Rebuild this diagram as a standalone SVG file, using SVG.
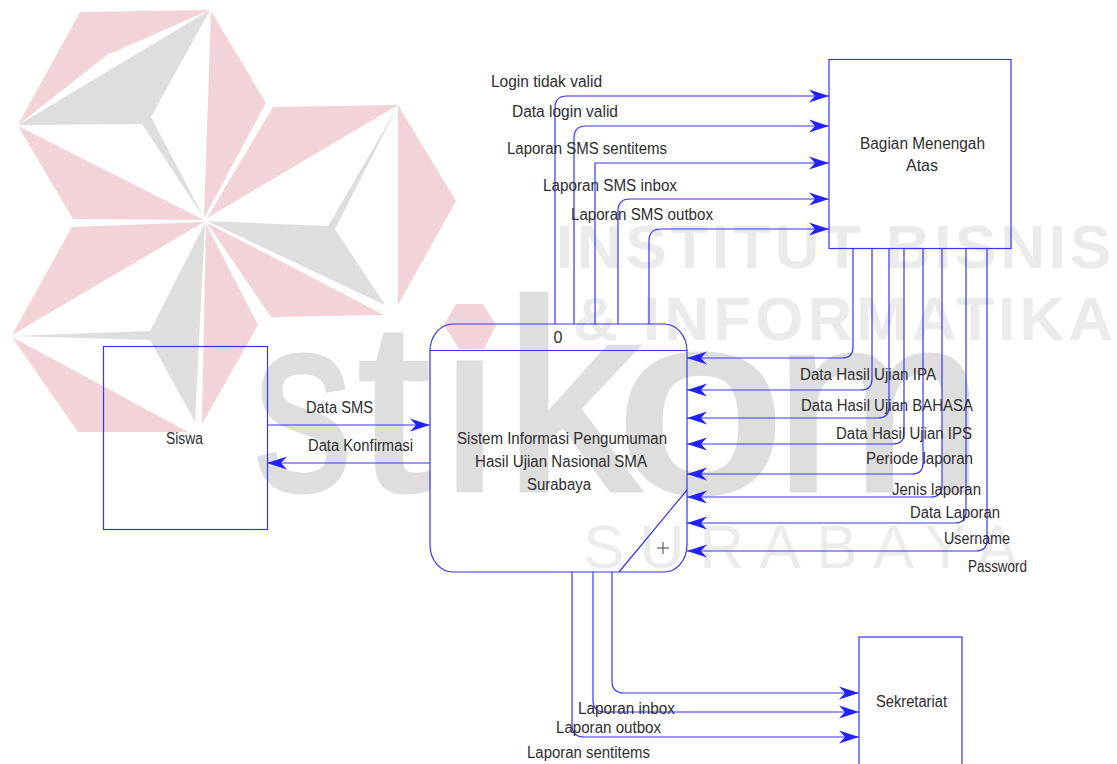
<svg xmlns="http://www.w3.org/2000/svg" width="1117" height="764" viewBox="0 0 1117 764">
<style>
.p{fill:#f2d3d7}.g{fill:#dedede}
.wm{font-family:"Liberation Sans",Arial,sans-serif;fill:#dedede;stroke:#dedede;stroke-width:5}
.wt{font-family:"Liberation Sans",Arial,sans-serif;font-weight:700;font-size:62px;fill:#ebebeb}
.wl{font-family:"Liberation Sans",Arial,sans-serif;font-size:62px;fill:#ececec}
.box{fill:none;stroke:#3535ff;stroke-width:1.2}
.c{fill:none;stroke:#3535ff;stroke-width:1.2;marker-end:url(#a)}
.t{font-family:"Liberation Sans",Arial,sans-serif;font-size:16px;fill:#2e2e2e}
.m{text-anchor:middle}
</style>
<defs>
<marker id="a" markerUnits="userSpaceOnUse" markerWidth="20" markerHeight="14" refX="20" refY="7" orient="auto"><path d="M0 0.500L20 7L0 13.500L6 7Z" fill="#2222ff"/></marker>
</defs>
<rect width="1117" height="764" fill="#fff"/>
<g id="watermark">
<polygon class="p" points="80,12 210,10 107,55 18,125"/>
<polygon class="g" points="18,125 210,10 151,117 204,218 142,124"/>
<polygon class="p" points="211,11 266,103 204,218"/>
<polygon class="p" points="18,126 204,220 73,219"/>
<polygon class="p" points="273,107 398,105 207,218"/>
<polygon class="p" points="398,105 456,201 398,305"/>
<polygon class="g" points="398,106 335,229 385,305 207,221 328,226"/>
<polygon class="p" points="207,223 384,315 271,317"/>
<polygon class="p" points="204,222 72,227 12,335"/>
<polygon class="g" points="205,223 195,422 150,340 12,336 150,331"/>
<polygon class="p" points="206,224 258,325 202,424"/>
<polygon class="p" points="12,337 188,432 78,432"/>
<text class="wm" x="254" y="490" font-size="250" textLength="98" lengthAdjust="spacingAndGlyphs">s</text>
<text class="wm" x="358" y="490" font-size="240" textLength="72" lengthAdjust="spacingAndGlyphs">t</text>
<text class="wm" x="443" y="490" font-size="240">i</text>
<polygon fill="#f2d3d7" points="456,304 483,304 496,325 484,349 459,349 444,325"/>
<text class="wm" x="504" y="490" font-size="270">k</text>
<text class="wm" x="618" y="490" font-size="250" textLength="165" lengthAdjust="spacingAndGlyphs" style="stroke-width:8">o</text>
<text class="wm" x="775" y="490" font-size="250">m</text>
<text class="wt" x="556" y="268" textLength="555">INSTITUT BISNIS</text>
<text class="wt" x="573" y="340" textLength="540">&amp; INFORMATIKA</text>
<text class="wl" x="583" y="568" textLength="435">SURABAYA</text>
</g>
<g id="connectors">
<path class="c" d="M555 324V108Q555 96 567 96H829"/>
<path class="c" d="M574 324V138Q574 126 586 126H829"/>
<path class="c" d="M595 324V163H829"/>
<path class="c" d="M618 324V211Q618 199 630 199H829"/>
<path class="c" d="M649 324V241Q649 229 661 229H829"/>
<path class="c" d="M853 248V347Q853 358 842 358H687"/>
<path class="c" d="M872 248V379Q872 390 861 390H687"/>
<path class="c" d="M889 248V407Q889 418 878 418H687"/>
<path class="c" d="M904 248V433Q904 444 893 444H687"/>
<path class="c" d="M923 248V463Q923 474 912 474H687"/>
<path class="c" d="M942 248V486Q942 497 931 497H687"/>
<path class="c" d="M966 248V512Q966 523 955 523H687"/>
<path class="c" d="M987 248V540Q987 551 976 551H687"/>
<path class="c" d="M267 425H430"/>
<path class="c" d="M430 463H267"/>
<path class="c" d="M612 572V681Q612 693 624 693H859"/>
<path class="c" d="M593 572V700Q593 712 605 712H859"/>
<path class="c" d="M572 572V725Q572 737 584 737H859"/>
<g id="connector-labels">
<text class="t" x="491" y="87" textLength="111" lengthAdjust="spacingAndGlyphs">Login tidak valid</text>
<text class="t" x="512" y="117" textLength="106" lengthAdjust="spacingAndGlyphs">Data login valid</text>
<text class="t" x="507" y="154" textLength="160" lengthAdjust="spacingAndGlyphs">Laporan SMS sentitems</text>
<text class="t" x="543" y="191" textLength="134" lengthAdjust="spacingAndGlyphs">Laporan SMS inbox</text>
<text class="t" x="571" y="220" textLength="142" lengthAdjust="spacingAndGlyphs">Laporan SMS outbox</text>
<text class="t" x="800" y="380" textLength="136" lengthAdjust="spacingAndGlyphs">Data Hasil Ujian IPA</text>
<text class="t" x="801" y="411" textLength="172" lengthAdjust="spacingAndGlyphs">Data Hasil Ujian BAHASA</text>
<text class="t" x="836" y="439" textLength="136" lengthAdjust="spacingAndGlyphs">Data Hasil Ujian IPS</text>
<text class="t" x="866" y="464" textLength="107" lengthAdjust="spacingAndGlyphs">Periode laporan</text>
<text class="t" x="892" y="495" textLength="89" lengthAdjust="spacingAndGlyphs">Jenis laporan</text>
<text class="t" x="910" y="518" textLength="90" lengthAdjust="spacingAndGlyphs">Data Laporan</text>
<text class="t" x="944" y="544" textLength="66" lengthAdjust="spacingAndGlyphs">Username</text>
<text class="t" x="968" y="572" textLength="59" lengthAdjust="spacingAndGlyphs">Password</text>
<text class="t" x="306" y="413" textLength="67" lengthAdjust="spacingAndGlyphs">Data SMS</text>
<text class="t" x="308" y="451" textLength="105" lengthAdjust="spacingAndGlyphs">Data Konfirmasi</text>
<text class="t" x="578" y="714" textLength="97" lengthAdjust="spacingAndGlyphs">Laporan inbox</text>
<text class="t" x="556" y="733" textLength="105" lengthAdjust="spacingAndGlyphs">Laporan outbox</text>
<text class="t" x="527" y="758" textLength="123" lengthAdjust="spacingAndGlyphs">Laporan sentitems</text>
</g>
</g>
<g id="node-process">
<rect class="box" x="430" y="324" width="257" height="248" rx="23" ry="27"/>
<path class="box" d="M430 350.500H687M619 572L687 490"/>
<path d="M657 548H669M663 542V554" fill="none" stroke="#444" stroke-width="1"/>
<text class="t m" x="558" y="343">0</text>
<text class="t" x="457" y="444" textLength="210" lengthAdjust="spacingAndGlyphs">Sistem Informasi Pengumuman</text>
<text class="t" x="475" y="467" textLength="172" lengthAdjust="spacingAndGlyphs">Hasil Ujian Nasional SMA</text>
<text class="t" x="527" y="490" textLength="64" lengthAdjust="spacingAndGlyphs">Surabaya</text>
</g>
<g id="node-siswa">
<rect class="box" x="103.500" y="346.500" width="164" height="183"/>
<text class="t" x="166" y="444" textLength="37" lengthAdjust="spacingAndGlyphs">Siswa</text>
</g>
<g id="node-bagian">
<rect class="box" x="829" y="59.500" width="182" height="189"/>
<text class="t" x="860" y="149" textLength="125" lengthAdjust="spacingAndGlyphs">Bagian Menengah</text>
<text class="t m" x="922" y="171">Atas</text>
</g>
<g id="node-sekretariat">
<rect class="box" x="859" y="637" width="103" height="150"/>
<text class="t" x="876" y="707" textLength="71" lengthAdjust="spacingAndGlyphs">Sekretariat</text>
</g>
</svg>
